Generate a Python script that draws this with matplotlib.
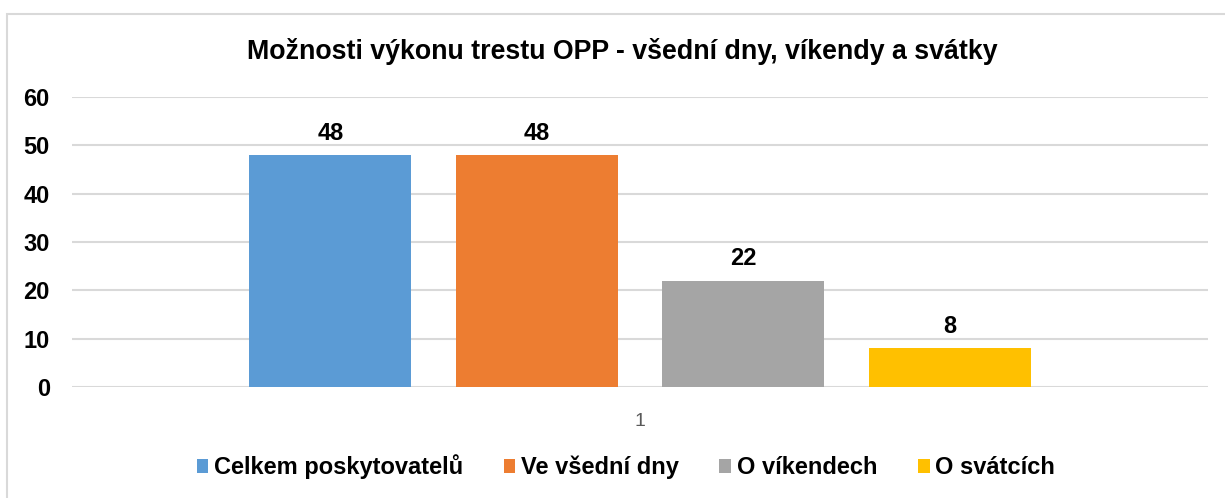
import matplotlib
matplotlib.use("Agg")
import matplotlib.pyplot as plt
from matplotlib.patches import Patch, Rectangle

series = ["Celkem poskytovatelů", "Ve všední dny", "O víkendech", "O svátcích"]
values = [48, 48, 22, 8]
colors = ["#5B9BD5", "#ED7D31", "#A5A5A5", "#FFC000"]
category = "1"
yticks = [0, 10, 20, 30, 40, 50, 60]
title = "Možnosti výkonu trestu OPP - všední dny, víkendy a svátky"

plt.rcParams['font.family'] = ['Liberation Sans', 'DejaVu Sans']

fig = plt.figure(figsize=(12.25, 4.98), dpi=100)
# chart border
fig.patches.append(Rectangle((7/1225, -0.1), 1.2, 1 - 14/498 + 0.1, transform=fig.transFigure,
                             fill=False, edgecolor="#d9d9d9", linewidth=1.5))

ax = fig.add_axes([72/1225, (498-387)/498, 1136/1225, 290/498])
width = 162/1136
step = 206.5/1136
n = len(values)
for i, (v, c) in enumerate(zip(values, colors)):
    x = 1 + (i - (n-1)/2) * step
    ax.bar(x, v, width=width, color=c, zorder=2)
    ax.text(x, v + 3.2, str(v), ha='center', va='baseline', fontsize=17, fontweight='bold', color='#000000')

ax.set_xlim(0.5, 1.5)
ax.set_ylim(0, 60)
ax.set_yticks(yticks)
ax.set_yticklabels([str(t) for t in yticks], fontsize=17, fontweight='bold')
ax.set_xticks([1])
ax.set_xticklabels([category], fontsize=14, color='#595959')
ax.tick_params(axis='y', length=0, pad=16)
ax.tick_params(axis='x', length=0, pad=19)
ax.grid(axis='y', color='#d9d9d9', linewidth=1.5, zorder=0)
ax.set_axisbelow(True)
for s in ax.spines.values():
    s.set_visible(False)

fig.text(622/1225, 1 - 59/498, title, ha='center', va='baseline', fontsize=19.3, fontweight='bold')

handles = [Patch(facecolor=c, label=s) for s, c in zip(series, colors)]
leg = fig.legend(handles=handles, loc='center', bbox_to_anchor=(626/1225, 1 - 467/498), ncol=4,
                 frameon=False, handlelength=0.5, handleheight=0.55, handletextpad=0.25,
                 columnspacing=1.7, prop={'size': 17, 'weight': 'bold'})

fig.savefig("out.png", dpi=100)
